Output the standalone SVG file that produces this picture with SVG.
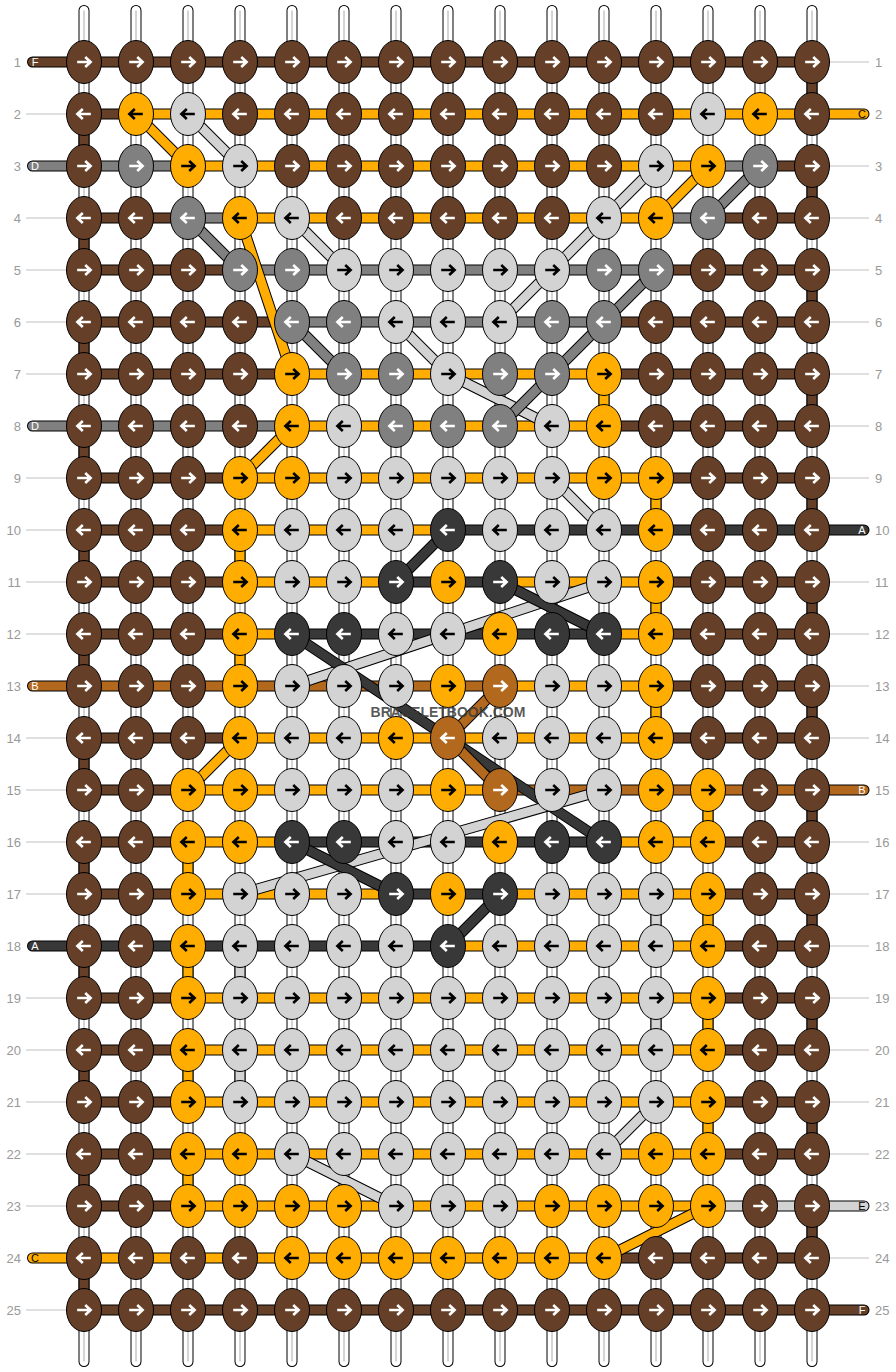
<svg xmlns="http://www.w3.org/2000/svg" xmlns:xlink="http://www.w3.org/1999/xlink" width="896" height="1372" viewBox="0 0 896 1372">
<style>
.num{font-family:"Liberation Sans",Arial,sans-serif;font-size:13px;fill:#999}
.tl{font-family:"Liberation Sans",Arial,sans-serif;font-size:11px;text-anchor:middle}
.rl{stroke:#c0c0c0;stroke-width:1;fill:none}
.ol{stroke:#000;stroke-width:11;fill:none}
.hc{stroke-width:9;fill:none}
.rc{stroke-linecap:round}
.sB{stroke:#653F27}.sO{stroke:#FFAD00}.sL{stroke:#D3D3D3}.sG{stroke:#808080}.sD{stroke:#383838}.sP{stroke:#B2691E}
.wm{font-family:"Liberation Sans",Arial,sans-serif;font-size:14px;font-weight:bold;fill:#3a3a3a;fill-opacity:.85;text-anchor:middle}
</style>
<defs>
<path id="ar" d="M-6.8,0H5.5M1.2,-5L6.6,0L1.2,5" fill="none" stroke-width="2.6"/>
<path id="al" d="M6.8,0H-5.5M-1.2,-5L-6.6,0L-1.2,5" fill="none" stroke-width="2.6"/>
<g id="BR"><ellipse rx="17.5" ry="21.5" fill="#653F27" stroke="#000"/><use href="#ar" stroke="#fff"/></g>
<g id="BL"><ellipse rx="17.5" ry="21.5" fill="#653F27" stroke="#000"/><use href="#al" stroke="#fff"/></g>
<g id="OR"><ellipse rx="17.5" ry="21.5" fill="#FFAD00" stroke="#000"/><use href="#ar" stroke="#000"/></g>
<g id="OL"><ellipse rx="17.5" ry="21.5" fill="#FFAD00" stroke="#000"/><use href="#al" stroke="#000"/></g>
<g id="LR"><ellipse rx="17.5" ry="21.5" fill="#D3D3D3" stroke="#000"/><use href="#ar" stroke="#000"/></g>
<g id="LL"><ellipse rx="17.5" ry="21.5" fill="#D3D3D3" stroke="#000"/><use href="#al" stroke="#000"/></g>
<g id="GR"><ellipse rx="17.5" ry="21.5" fill="#808080" stroke="#000"/><use href="#ar" stroke="#fff"/></g>
<g id="GL"><ellipse rx="17.5" ry="21.5" fill="#808080" stroke="#000"/><use href="#al" stroke="#fff"/></g>
<g id="DR"><ellipse rx="17.5" ry="21.5" fill="#383838" stroke="#000"/><use href="#ar" stroke="#fff"/></g>
<g id="DL"><ellipse rx="17.5" ry="21.5" fill="#383838" stroke="#000"/><use href="#al" stroke="#fff"/></g>
<g id="PR"><ellipse rx="17.5" ry="21.5" fill="#B2691E" stroke="#000"/><use href="#ar" stroke="#fff"/></g>
<g id="PL"><ellipse rx="17.5" ry="21.5" fill="#B2691E" stroke="#000"/><use href="#al" stroke="#fff"/></g>
<path id="cols" d="M84 10.5V1361.5M136 10.5V1361.5M188 10.5V1361.5M240 10.5V1361.5M292 10.5V1361.5M344 10.5V1361.5M396 10.5V1361.5M448 10.5V1361.5M500 10.5V1361.5M552 10.5V1361.5M604 10.5V1361.5M656 10.5V1361.5M708 10.5V1361.5M760 10.5V1361.5M812 10.5V1361.5"/>
<path id="vB" d="M84 114V166M84 218V270M84 322V374M84 426V478M84 530V582M84 634V686M84 738V790M84 842V894M84 946V998M84 1050V1102M84 1154V1206M84 1258V1310M812 62V114M812 166V218M812 270V322M812 374V426M812 478V530M812 582V634M812 686V738M812 790V842M812 894V946M812 998V1050M812 1102V1154M812 1206V1258"/>
<path id="vO" d="M604 374V426M656 478V530M656 582V634M656 686V738M240 530V582M240 634V686M188 842V894M188 946V998M188 1050V1102M188 1154V1206M708 790V842M708 894V946M708 998V1050M708 1102V1154"/>
<path id="vL" d="M656 894V946M656 998V1050M240 946V998M240 1050V1102"/>
<path id="hB" d="M32.5 62H812M84 114H136M760 166H812M84 218H188M708 218H812M84 270H240M656 270H812M84 322H292M604 322H812M84 374H292M604 374H812M604 426H812M84 478H240M656 478H812M84 530H240M84 582H240M656 582H812M84 634H240M656 634H812M656 686H812M84 738H240M656 738H812M84 790H188M84 842H188M708 842H812M84 894H188M708 894H812M708 946H812M84 998H188M708 998H812M84 1050H188M708 1050H812M84 1102H188M708 1102H812M84 1154H188M708 1154H812M84 1206H188M604 1258H812M84 1310H864"/>
<path id="hO" d="M136 114H864M188 166H708M240 218H656M292 374H604M292 426H604M240 478H656M240 530H448M240 582H396M500 582H656M240 634H292M604 634H656M500 686H656M240 738H656M188 790H500M188 842H292M604 842H708M188 894H396M500 894H708M448 946H708M188 998H708M188 1050H708M188 1102H708M188 1154H708M188 1206H708M32.5 1258H604"/>
<path id="hG" d="M32.5 166H188M708 166H760M188 218H240M656 218H708M240 270H656M292 322H604M32.5 426H292"/>
<path id="hD" d="M448 530H864M396 582H500M292 634H604M292 842H604M396 894H500M32.5 946H448"/>
<path id="hP" d="M32.5 686H500M500 790H864"/>
<path id="hL" d="M708 1206H864"/>
</defs>
<rect width="896" height="1372" fill="#fff"/>
<g id="warp">
<use href="#cols" stroke="#000" stroke-width="11" stroke-linecap="round" fill="none"/>
<use href="#cols" stroke="#fff" stroke-width="9" stroke-linecap="round" fill="none"/>
<use href="#cols" stroke="#c8c8c8" stroke-width="1.5" fill="none"/>
</g>
<g id="connectors">
<use href="#vB" class="ol"/><use href="#vO" class="ol"/><use href="#vL" class="ol"/>
<use href="#vB" class="hc sB"/><use href="#vO" class="hc sO"/><use href="#vL" class="hc sL"/>
<g class="rc">
<use href="#hB" class="ol"/><use href="#hO" class="ol"/><use href="#hG" class="ol"/><use href="#hD" class="ol"/><use href="#hP" class="ol"/><use href="#hL" class="ol"/>
<use href="#hB" class="hc sB"/><use href="#hO" class="hc sO"/><use href="#hG" class="hc sG"/><use href="#hD" class="hc sD"/><use href="#hP" class="hc sP"/><use href="#hL" class="hc sL"/>
</g>
<line class="ol" x1="136" y1="114" x2="188" y2="166"/><line class="hc sO" x1="136" y1="114" x2="188" y2="166"/>
<line class="ol" x1="188" y1="114" x2="240" y2="166"/><line class="hc sL" x1="188" y1="114" x2="240" y2="166"/>
<line class="ol" x1="188" y1="218" x2="240" y2="270"/><line class="hc sG" x1="188" y1="218" x2="240" y2="270"/>
<line class="ol" x1="292" y1="218" x2="344" y2="270"/><line class="hc sL" x1="292" y1="218" x2="344" y2="270"/>
<line class="ol" x1="240" y1="218" x2="292" y2="374"/><line class="hc sO" x1="240" y1="218" x2="292" y2="374"/>
<line class="ol" x1="292" y1="322" x2="344" y2="374"/><line class="hc sG" x1="292" y1="322" x2="344" y2="374"/>
<line class="ol" x1="396" y1="322" x2="448" y2="374"/><line class="hc sL" x1="396" y1="322" x2="448" y2="374"/>
<line class="ol" x1="448" y1="374" x2="552" y2="426"/><line class="hc sL" x1="448" y1="374" x2="552" y2="426"/>
<line class="ol" x1="552" y1="374" x2="500" y2="426"/><line class="hc sG" x1="552" y1="374" x2="500" y2="426"/>
<line class="ol" x1="656" y1="166" x2="604" y2="218"/><line class="hc sL" x1="656" y1="166" x2="604" y2="218"/>
<line class="ol" x1="708" y1="166" x2="656" y2="218"/><line class="hc sO" x1="708" y1="166" x2="656" y2="218"/>
<line class="ol" x1="760" y1="166" x2="708" y2="218"/><line class="hc sG" x1="760" y1="166" x2="708" y2="218"/>
<line class="ol" x1="604" y1="218" x2="552" y2="270"/><line class="hc sL" x1="604" y1="218" x2="552" y2="270"/>
<line class="ol" x1="552" y1="270" x2="500" y2="322"/><line class="hc sL" x1="552" y1="270" x2="500" y2="322"/>
<line class="ol" x1="656" y1="270" x2="604" y2="322"/><line class="hc sG" x1="656" y1="270" x2="604" y2="322"/>
<line class="ol" x1="604" y1="322" x2="552" y2="374"/><line class="hc sG" x1="604" y1="322" x2="552" y2="374"/>
<line class="ol" x1="292" y1="426" x2="240" y2="478"/><line class="hc sO" x1="292" y1="426" x2="240" y2="478"/>
<line class="ol" x1="552" y1="478" x2="604" y2="530"/><line class="hc sL" x1="552" y1="478" x2="604" y2="530"/>
<line class="ol" x1="448" y1="530" x2="396" y2="582"/><line class="hc sD" x1="448" y1="530" x2="396" y2="582"/>
<line class="ol" x1="604" y1="582" x2="292" y2="686"/><line class="hc sL" x1="604" y1="582" x2="292" y2="686"/>
<line class="ol" x1="500" y1="582" x2="604" y2="634"/><line class="hc sD" x1="500" y1="582" x2="604" y2="634"/>
<line class="ol" x1="292" y1="634" x2="604" y2="842"/><line class="hc sD" x1="292" y1="634" x2="604" y2="842"/>
<line class="ol" x1="500" y1="686" x2="448" y2="738"/><line class="hc sP" x1="500" y1="686" x2="448" y2="738"/>
<line class="ol" x1="448" y1="738" x2="500" y2="790"/><line class="hc sP" x1="448" y1="738" x2="500" y2="790"/>
<line class="ol" x1="240" y1="738" x2="188" y2="790"/><line class="hc sO" x1="240" y1="738" x2="188" y2="790"/>
<line class="ol" x1="604" y1="790" x2="240" y2="894"/><line class="hc sL" x1="604" y1="790" x2="240" y2="894"/>
<line class="ol" x1="292" y1="842" x2="396" y2="894"/><line class="hc sD" x1="292" y1="842" x2="396" y2="894"/>
<line class="ol" x1="500" y1="894" x2="448" y2="946"/><line class="hc sD" x1="500" y1="894" x2="448" y2="946"/>
<line class="ol" x1="656" y1="1102" x2="604" y2="1154"/><line class="hc sL" x1="656" y1="1102" x2="604" y2="1154"/>
<line class="ol" x1="292" y1="1154" x2="396" y2="1206"/><line class="hc sL" x1="292" y1="1154" x2="396" y2="1206"/>
<line class="ol" x1="708" y1="1206" x2="604" y2="1258"/><line class="hc sO" x1="708" y1="1206" x2="604" y2="1258"/>
</g>
<g id="knots">
<g id="k1_1"><use href="#BR" x="84" y="62"/></g><g id="k1_2"><use href="#BR" x="136" y="62"/></g><g id="k1_3"><use href="#BR" x="188" y="62"/></g><g id="k1_4"><use href="#BR" x="240" y="62"/></g><g id="k1_5"><use href="#BR" x="292" y="62"/></g><g id="k1_6"><use href="#BR" x="344" y="62"/></g><g id="k1_7"><use href="#BR" x="396" y="62"/></g><g id="k1_8"><use href="#BR" x="448" y="62"/></g><g id="k1_9"><use href="#BR" x="500" y="62"/></g><g id="k1_10"><use href="#BR" x="552" y="62"/></g><g id="k1_11"><use href="#BR" x="604" y="62"/></g><g id="k1_12"><use href="#BR" x="656" y="62"/></g><g id="k1_13"><use href="#BR" x="708" y="62"/></g><g id="k1_14"><use href="#BR" x="760" y="62"/></g><g id="k1_15"><use href="#BR" x="812" y="62"/></g>
<g id="k2_1"><use href="#BL" x="84" y="114"/></g><g id="k2_2"><use href="#OL" x="136" y="114"/></g><g id="k2_3"><use href="#LL" x="188" y="114"/></g><g id="k2_4"><use href="#BL" x="240" y="114"/></g><g id="k2_5"><use href="#BL" x="292" y="114"/></g><g id="k2_6"><use href="#BL" x="344" y="114"/></g><g id="k2_7"><use href="#BL" x="396" y="114"/></g><g id="k2_8"><use href="#BL" x="448" y="114"/></g><g id="k2_9"><use href="#BL" x="500" y="114"/></g><g id="k2_10"><use href="#BL" x="552" y="114"/></g><g id="k2_11"><use href="#BL" x="604" y="114"/></g><g id="k2_12"><use href="#BL" x="656" y="114"/></g><g id="k2_13"><use href="#LL" x="708" y="114"/></g><g id="k2_14"><use href="#OL" x="760" y="114"/></g><g id="k2_15"><use href="#BL" x="812" y="114"/></g>
<g id="k3_1"><use href="#BR" x="84" y="166"/></g><g id="k3_2"><use href="#GR" x="136" y="166"/></g><g id="k3_3"><use href="#OR" x="188" y="166"/></g><g id="k3_4"><use href="#LR" x="240" y="166"/></g><g id="k3_5"><use href="#BR" x="292" y="166"/></g><g id="k3_6"><use href="#BR" x="344" y="166"/></g><g id="k3_7"><use href="#BR" x="396" y="166"/></g><g id="k3_8"><use href="#BR" x="448" y="166"/></g><g id="k3_9"><use href="#BR" x="500" y="166"/></g><g id="k3_10"><use href="#BR" x="552" y="166"/></g><g id="k3_11"><use href="#BR" x="604" y="166"/></g><g id="k3_12"><use href="#LR" x="656" y="166"/></g><g id="k3_13"><use href="#OR" x="708" y="166"/></g><g id="k3_14"><use href="#GR" x="760" y="166"/></g><g id="k3_15"><use href="#BR" x="812" y="166"/></g>
<g id="k4_1"><use href="#BL" x="84" y="218"/></g><g id="k4_2"><use href="#BL" x="136" y="218"/></g><g id="k4_3"><use href="#GL" x="188" y="218"/></g><g id="k4_4"><use href="#OL" x="240" y="218"/></g><g id="k4_5"><use href="#LL" x="292" y="218"/></g><g id="k4_6"><use href="#BL" x="344" y="218"/></g><g id="k4_7"><use href="#BL" x="396" y="218"/></g><g id="k4_8"><use href="#BL" x="448" y="218"/></g><g id="k4_9"><use href="#BL" x="500" y="218"/></g><g id="k4_10"><use href="#BL" x="552" y="218"/></g><g id="k4_11"><use href="#LL" x="604" y="218"/></g><g id="k4_12"><use href="#OL" x="656" y="218"/></g><g id="k4_13"><use href="#GL" x="708" y="218"/></g><g id="k4_14"><use href="#BL" x="760" y="218"/></g><g id="k4_15"><use href="#BL" x="812" y="218"/></g>
<g id="k5_1"><use href="#BR" x="84" y="270"/></g><g id="k5_2"><use href="#BR" x="136" y="270"/></g><g id="k5_3"><use href="#BR" x="188" y="270"/></g><g id="k5_4"><use href="#GR" x="240" y="270"/></g><g id="k5_5"><use href="#GR" x="292" y="270"/></g><g id="k5_6"><use href="#LR" x="344" y="270"/></g><g id="k5_7"><use href="#LR" x="396" y="270"/></g><g id="k5_8"><use href="#LR" x="448" y="270"/></g><g id="k5_9"><use href="#LR" x="500" y="270"/></g><g id="k5_10"><use href="#LR" x="552" y="270"/></g><g id="k5_11"><use href="#GR" x="604" y="270"/></g><g id="k5_12"><use href="#GR" x="656" y="270"/></g><g id="k5_13"><use href="#BR" x="708" y="270"/></g><g id="k5_14"><use href="#BR" x="760" y="270"/></g><g id="k5_15"><use href="#BR" x="812" y="270"/></g>
<g id="k6_1"><use href="#BL" x="84" y="322"/></g><g id="k6_2"><use href="#BL" x="136" y="322"/></g><g id="k6_3"><use href="#BL" x="188" y="322"/></g><g id="k6_4"><use href="#BL" x="240" y="322"/></g><g id="k6_5"><use href="#GL" x="292" y="322"/></g><g id="k6_6"><use href="#GL" x="344" y="322"/></g><g id="k6_7"><use href="#LL" x="396" y="322"/></g><g id="k6_8"><use href="#LL" x="448" y="322"/></g><g id="k6_9"><use href="#LL" x="500" y="322"/></g><g id="k6_10"><use href="#GL" x="552" y="322"/></g><g id="k6_11"><use href="#GL" x="604" y="322"/></g><g id="k6_12"><use href="#BL" x="656" y="322"/></g><g id="k6_13"><use href="#BL" x="708" y="322"/></g><g id="k6_14"><use href="#BL" x="760" y="322"/></g><g id="k6_15"><use href="#BL" x="812" y="322"/></g>
<g id="k7_1"><use href="#BR" x="84" y="374"/></g><g id="k7_2"><use href="#BR" x="136" y="374"/></g><g id="k7_3"><use href="#BR" x="188" y="374"/></g><g id="k7_4"><use href="#BR" x="240" y="374"/></g><g id="k7_5"><use href="#OR" x="292" y="374"/></g><g id="k7_6"><use href="#GR" x="344" y="374"/></g><g id="k7_7"><use href="#GR" x="396" y="374"/></g><g id="k7_8"><use href="#LR" x="448" y="374"/></g><g id="k7_9"><use href="#GR" x="500" y="374"/></g><g id="k7_10"><use href="#GR" x="552" y="374"/></g><g id="k7_11"><use href="#OR" x="604" y="374"/></g><g id="k7_12"><use href="#BR" x="656" y="374"/></g><g id="k7_13"><use href="#BR" x="708" y="374"/></g><g id="k7_14"><use href="#BR" x="760" y="374"/></g><g id="k7_15"><use href="#BR" x="812" y="374"/></g>
<g id="k8_1"><use href="#BL" x="84" y="426"/></g><g id="k8_2"><use href="#BL" x="136" y="426"/></g><g id="k8_3"><use href="#BL" x="188" y="426"/></g><g id="k8_4"><use href="#BL" x="240" y="426"/></g><g id="k8_5"><use href="#OL" x="292" y="426"/></g><g id="k8_6"><use href="#LL" x="344" y="426"/></g><g id="k8_7"><use href="#GL" x="396" y="426"/></g><g id="k8_8"><use href="#GL" x="448" y="426"/></g><g id="k8_9"><use href="#GL" x="500" y="426"/></g><g id="k8_10"><use href="#LL" x="552" y="426"/></g><g id="k8_11"><use href="#OL" x="604" y="426"/></g><g id="k8_12"><use href="#BL" x="656" y="426"/></g><g id="k8_13"><use href="#BL" x="708" y="426"/></g><g id="k8_14"><use href="#BL" x="760" y="426"/></g><g id="k8_15"><use href="#BL" x="812" y="426"/></g>
<g id="k9_1"><use href="#BR" x="84" y="478"/></g><g id="k9_2"><use href="#BR" x="136" y="478"/></g><g id="k9_3"><use href="#BR" x="188" y="478"/></g><g id="k9_4"><use href="#OR" x="240" y="478"/></g><g id="k9_5"><use href="#OR" x="292" y="478"/></g><g id="k9_6"><use href="#LR" x="344" y="478"/></g><g id="k9_7"><use href="#LR" x="396" y="478"/></g><g id="k9_8"><use href="#LR" x="448" y="478"/></g><g id="k9_9"><use href="#LR" x="500" y="478"/></g><g id="k9_10"><use href="#LR" x="552" y="478"/></g><g id="k9_11"><use href="#OR" x="604" y="478"/></g><g id="k9_12"><use href="#OR" x="656" y="478"/></g><g id="k9_13"><use href="#BR" x="708" y="478"/></g><g id="k9_14"><use href="#BR" x="760" y="478"/></g><g id="k9_15"><use href="#BR" x="812" y="478"/></g>
<g id="k10_1"><use href="#BL" x="84" y="530"/></g><g id="k10_2"><use href="#BL" x="136" y="530"/></g><g id="k10_3"><use href="#BL" x="188" y="530"/></g><g id="k10_4"><use href="#OL" x="240" y="530"/></g><g id="k10_5"><use href="#LL" x="292" y="530"/></g><g id="k10_6"><use href="#LL" x="344" y="530"/></g><g id="k10_7"><use href="#LL" x="396" y="530"/></g><g id="k10_8"><use href="#DL" x="448" y="530"/></g><g id="k10_9"><use href="#LL" x="500" y="530"/></g><g id="k10_10"><use href="#LL" x="552" y="530"/></g><g id="k10_11"><use href="#LL" x="604" y="530"/></g><g id="k10_12"><use href="#OL" x="656" y="530"/></g><g id="k10_13"><use href="#BL" x="708" y="530"/></g><g id="k10_14"><use href="#BL" x="760" y="530"/></g><g id="k10_15"><use href="#BL" x="812" y="530"/></g>
<g id="k11_1"><use href="#BR" x="84" y="582"/></g><g id="k11_2"><use href="#BR" x="136" y="582"/></g><g id="k11_3"><use href="#BR" x="188" y="582"/></g><g id="k11_4"><use href="#OR" x="240" y="582"/></g><g id="k11_5"><use href="#LR" x="292" y="582"/></g><g id="k11_6"><use href="#LR" x="344" y="582"/></g><g id="k11_7"><use href="#DR" x="396" y="582"/></g><g id="k11_8"><use href="#OR" x="448" y="582"/></g><g id="k11_9"><use href="#DR" x="500" y="582"/></g><g id="k11_10"><use href="#LR" x="552" y="582"/></g><g id="k11_11"><use href="#LR" x="604" y="582"/></g><g id="k11_12"><use href="#OR" x="656" y="582"/></g><g id="k11_13"><use href="#BR" x="708" y="582"/></g><g id="k11_14"><use href="#BR" x="760" y="582"/></g><g id="k11_15"><use href="#BR" x="812" y="582"/></g>
<g id="k12_1"><use href="#BL" x="84" y="634"/></g><g id="k12_2"><use href="#BL" x="136" y="634"/></g><g id="k12_3"><use href="#BL" x="188" y="634"/></g><g id="k12_4"><use href="#OL" x="240" y="634"/></g><g id="k12_5"><use href="#DL" x="292" y="634"/></g><g id="k12_6"><use href="#DL" x="344" y="634"/></g><g id="k12_7"><use href="#LL" x="396" y="634"/></g><g id="k12_8"><use href="#LL" x="448" y="634"/></g><g id="k12_9"><use href="#OL" x="500" y="634"/></g><g id="k12_10"><use href="#DL" x="552" y="634"/></g><g id="k12_11"><use href="#DL" x="604" y="634"/></g><g id="k12_12"><use href="#OL" x="656" y="634"/></g><g id="k12_13"><use href="#BL" x="708" y="634"/></g><g id="k12_14"><use href="#BL" x="760" y="634"/></g><g id="k12_15"><use href="#BL" x="812" y="634"/></g>
<g id="k13_1"><use href="#BR" x="84" y="686"/></g><g id="k13_2"><use href="#BR" x="136" y="686"/></g><g id="k13_3"><use href="#BR" x="188" y="686"/></g><g id="k13_4"><use href="#OR" x="240" y="686"/></g><g id="k13_5"><use href="#LR" x="292" y="686"/></g><g id="k13_6"><use href="#LR" x="344" y="686"/></g><g id="k13_7"><use href="#LR" x="396" y="686"/></g><g id="k13_8"><use href="#OR" x="448" y="686"/></g><g id="k13_9"><use href="#PR" x="500" y="686"/></g><g id="k13_10"><use href="#LR" x="552" y="686"/></g><g id="k13_11"><use href="#LR" x="604" y="686"/></g><g id="k13_12"><use href="#OR" x="656" y="686"/></g><g id="k13_13"><use href="#BR" x="708" y="686"/></g><g id="k13_14"><use href="#BR" x="760" y="686"/></g><g id="k13_15"><use href="#BR" x="812" y="686"/></g>
<g id="k14_1"><use href="#BL" x="84" y="738"/></g><g id="k14_2"><use href="#BL" x="136" y="738"/></g><g id="k14_3"><use href="#BL" x="188" y="738"/></g><g id="k14_4"><use href="#OL" x="240" y="738"/></g><g id="k14_5"><use href="#LL" x="292" y="738"/></g><g id="k14_6"><use href="#LL" x="344" y="738"/></g><g id="k14_7"><use href="#OL" x="396" y="738"/></g><g id="k14_8"><use href="#PL" x="448" y="738"/></g><g id="k14_9"><use href="#LL" x="500" y="738"/></g><g id="k14_10"><use href="#LL" x="552" y="738"/></g><g id="k14_11"><use href="#LL" x="604" y="738"/></g><g id="k14_12"><use href="#OL" x="656" y="738"/></g><g id="k14_13"><use href="#BL" x="708" y="738"/></g><g id="k14_14"><use href="#BL" x="760" y="738"/></g><g id="k14_15"><use href="#BL" x="812" y="738"/></g>
<g id="k15_1"><use href="#BR" x="84" y="790"/></g><g id="k15_2"><use href="#BR" x="136" y="790"/></g><g id="k15_3"><use href="#OR" x="188" y="790"/></g><g id="k15_4"><use href="#OR" x="240" y="790"/></g><g id="k15_5"><use href="#LR" x="292" y="790"/></g><g id="k15_6"><use href="#LR" x="344" y="790"/></g><g id="k15_7"><use href="#LR" x="396" y="790"/></g><g id="k15_8"><use href="#OR" x="448" y="790"/></g><g id="k15_9"><use href="#PR" x="500" y="790"/></g><g id="k15_10"><use href="#LR" x="552" y="790"/></g><g id="k15_11"><use href="#LR" x="604" y="790"/></g><g id="k15_12"><use href="#OR" x="656" y="790"/></g><g id="k15_13"><use href="#OR" x="708" y="790"/></g><g id="k15_14"><use href="#BR" x="760" y="790"/></g><g id="k15_15"><use href="#BR" x="812" y="790"/></g>
<g id="k16_1"><use href="#BL" x="84" y="842"/></g><g id="k16_2"><use href="#BL" x="136" y="842"/></g><g id="k16_3"><use href="#OL" x="188" y="842"/></g><g id="k16_4"><use href="#OL" x="240" y="842"/></g><g id="k16_5"><use href="#DL" x="292" y="842"/></g><g id="k16_6"><use href="#DL" x="344" y="842"/></g><g id="k16_7"><use href="#LL" x="396" y="842"/></g><g id="k16_8"><use href="#LL" x="448" y="842"/></g><g id="k16_9"><use href="#OL" x="500" y="842"/></g><g id="k16_10"><use href="#DL" x="552" y="842"/></g><g id="k16_11"><use href="#DL" x="604" y="842"/></g><g id="k16_12"><use href="#OL" x="656" y="842"/></g><g id="k16_13"><use href="#OL" x="708" y="842"/></g><g id="k16_14"><use href="#BL" x="760" y="842"/></g><g id="k16_15"><use href="#BL" x="812" y="842"/></g>
<g id="k17_1"><use href="#BR" x="84" y="894"/></g><g id="k17_2"><use href="#BR" x="136" y="894"/></g><g id="k17_3"><use href="#OR" x="188" y="894"/></g><g id="k17_4"><use href="#LR" x="240" y="894"/></g><g id="k17_5"><use href="#LR" x="292" y="894"/></g><g id="k17_6"><use href="#LR" x="344" y="894"/></g><g id="k17_7"><use href="#DR" x="396" y="894"/></g><g id="k17_8"><use href="#OR" x="448" y="894"/></g><g id="k17_9"><use href="#DR" x="500" y="894"/></g><g id="k17_10"><use href="#LR" x="552" y="894"/></g><g id="k17_11"><use href="#LR" x="604" y="894"/></g><g id="k17_12"><use href="#LR" x="656" y="894"/></g><g id="k17_13"><use href="#OR" x="708" y="894"/></g><g id="k17_14"><use href="#BR" x="760" y="894"/></g><g id="k17_15"><use href="#BR" x="812" y="894"/></g>
<g id="k18_1"><use href="#BL" x="84" y="946"/></g><g id="k18_2"><use href="#BL" x="136" y="946"/></g><g id="k18_3"><use href="#OL" x="188" y="946"/></g><g id="k18_4"><use href="#LL" x="240" y="946"/></g><g id="k18_5"><use href="#LL" x="292" y="946"/></g><g id="k18_6"><use href="#LL" x="344" y="946"/></g><g id="k18_7"><use href="#LL" x="396" y="946"/></g><g id="k18_8"><use href="#DL" x="448" y="946"/></g><g id="k18_9"><use href="#LL" x="500" y="946"/></g><g id="k18_10"><use href="#LL" x="552" y="946"/></g><g id="k18_11"><use href="#LL" x="604" y="946"/></g><g id="k18_12"><use href="#LL" x="656" y="946"/></g><g id="k18_13"><use href="#OL" x="708" y="946"/></g><g id="k18_14"><use href="#BL" x="760" y="946"/></g><g id="k18_15"><use href="#BL" x="812" y="946"/></g>
<g id="k19_1"><use href="#BR" x="84" y="998"/></g><g id="k19_2"><use href="#BR" x="136" y="998"/></g><g id="k19_3"><use href="#OR" x="188" y="998"/></g><g id="k19_4"><use href="#LR" x="240" y="998"/></g><g id="k19_5"><use href="#LR" x="292" y="998"/></g><g id="k19_6"><use href="#LR" x="344" y="998"/></g><g id="k19_7"><use href="#LR" x="396" y="998"/></g><g id="k19_8"><use href="#LR" x="448" y="998"/></g><g id="k19_9"><use href="#LR" x="500" y="998"/></g><g id="k19_10"><use href="#LR" x="552" y="998"/></g><g id="k19_11"><use href="#LR" x="604" y="998"/></g><g id="k19_12"><use href="#LR" x="656" y="998"/></g><g id="k19_13"><use href="#OR" x="708" y="998"/></g><g id="k19_14"><use href="#BR" x="760" y="998"/></g><g id="k19_15"><use href="#BR" x="812" y="998"/></g>
<g id="k20_1"><use href="#BL" x="84" y="1050"/></g><g id="k20_2"><use href="#BL" x="136" y="1050"/></g><g id="k20_3"><use href="#OL" x="188" y="1050"/></g><g id="k20_4"><use href="#LL" x="240" y="1050"/></g><g id="k20_5"><use href="#LL" x="292" y="1050"/></g><g id="k20_6"><use href="#LL" x="344" y="1050"/></g><g id="k20_7"><use href="#LL" x="396" y="1050"/></g><g id="k20_8"><use href="#LL" x="448" y="1050"/></g><g id="k20_9"><use href="#LL" x="500" y="1050"/></g><g id="k20_10"><use href="#LL" x="552" y="1050"/></g><g id="k20_11"><use href="#LL" x="604" y="1050"/></g><g id="k20_12"><use href="#LL" x="656" y="1050"/></g><g id="k20_13"><use href="#OL" x="708" y="1050"/></g><g id="k20_14"><use href="#BL" x="760" y="1050"/></g><g id="k20_15"><use href="#BL" x="812" y="1050"/></g>
<g id="k21_1"><use href="#BR" x="84" y="1102"/></g><g id="k21_2"><use href="#BR" x="136" y="1102"/></g><g id="k21_3"><use href="#OR" x="188" y="1102"/></g><g id="k21_4"><use href="#LR" x="240" y="1102"/></g><g id="k21_5"><use href="#LR" x="292" y="1102"/></g><g id="k21_6"><use href="#LR" x="344" y="1102"/></g><g id="k21_7"><use href="#LR" x="396" y="1102"/></g><g id="k21_8"><use href="#LR" x="448" y="1102"/></g><g id="k21_9"><use href="#LR" x="500" y="1102"/></g><g id="k21_10"><use href="#LR" x="552" y="1102"/></g><g id="k21_11"><use href="#LR" x="604" y="1102"/></g><g id="k21_12"><use href="#LR" x="656" y="1102"/></g><g id="k21_13"><use href="#OR" x="708" y="1102"/></g><g id="k21_14"><use href="#BR" x="760" y="1102"/></g><g id="k21_15"><use href="#BR" x="812" y="1102"/></g>
<g id="k22_1"><use href="#BL" x="84" y="1154"/></g><g id="k22_2"><use href="#BL" x="136" y="1154"/></g><g id="k22_3"><use href="#OL" x="188" y="1154"/></g><g id="k22_4"><use href="#OL" x="240" y="1154"/></g><g id="k22_5"><use href="#LL" x="292" y="1154"/></g><g id="k22_6"><use href="#LL" x="344" y="1154"/></g><g id="k22_7"><use href="#LL" x="396" y="1154"/></g><g id="k22_8"><use href="#LL" x="448" y="1154"/></g><g id="k22_9"><use href="#LL" x="500" y="1154"/></g><g id="k22_10"><use href="#LL" x="552" y="1154"/></g><g id="k22_11"><use href="#LL" x="604" y="1154"/></g><g id="k22_12"><use href="#OL" x="656" y="1154"/></g><g id="k22_13"><use href="#OL" x="708" y="1154"/></g><g id="k22_14"><use href="#BL" x="760" y="1154"/></g><g id="k22_15"><use href="#BL" x="812" y="1154"/></g>
<g id="k23_1"><use href="#BR" x="84" y="1206"/></g><g id="k23_2"><use href="#BR" x="136" y="1206"/></g><g id="k23_3"><use href="#OR" x="188" y="1206"/></g><g id="k23_4"><use href="#OR" x="240" y="1206"/></g><g id="k23_5"><use href="#OR" x="292" y="1206"/></g><g id="k23_6"><use href="#OR" x="344" y="1206"/></g><g id="k23_7"><use href="#LR" x="396" y="1206"/></g><g id="k23_8"><use href="#LR" x="448" y="1206"/></g><g id="k23_9"><use href="#LR" x="500" y="1206"/></g><g id="k23_10"><use href="#OR" x="552" y="1206"/></g><g id="k23_11"><use href="#OR" x="604" y="1206"/></g><g id="k23_12"><use href="#OR" x="656" y="1206"/></g><g id="k23_13"><use href="#OR" x="708" y="1206"/></g><g id="k23_14"><use href="#BR" x="760" y="1206"/></g><g id="k23_15"><use href="#BR" x="812" y="1206"/></g>
<g id="k24_1"><use href="#BL" x="84" y="1258"/></g><g id="k24_2"><use href="#BL" x="136" y="1258"/></g><g id="k24_3"><use href="#BL" x="188" y="1258"/></g><g id="k24_4"><use href="#BL" x="240" y="1258"/></g><g id="k24_5"><use href="#OL" x="292" y="1258"/></g><g id="k24_6"><use href="#OL" x="344" y="1258"/></g><g id="k24_7"><use href="#OL" x="396" y="1258"/></g><g id="k24_8"><use href="#OL" x="448" y="1258"/></g><g id="k24_9"><use href="#OL" x="500" y="1258"/></g><g id="k24_10"><use href="#OL" x="552" y="1258"/></g><g id="k24_11"><use href="#OL" x="604" y="1258"/></g><g id="k24_12"><use href="#BL" x="656" y="1258"/></g><g id="k24_13"><use href="#BL" x="708" y="1258"/></g><g id="k24_14"><use href="#BL" x="760" y="1258"/></g><g id="k24_15"><use href="#BL" x="812" y="1258"/></g>
<g id="k25_1"><use href="#BR" x="84" y="1310"/></g><g id="k25_2"><use href="#BR" x="136" y="1310"/></g><g id="k25_3"><use href="#BR" x="188" y="1310"/></g><g id="k25_4"><use href="#BR" x="240" y="1310"/></g><g id="k25_5"><use href="#BR" x="292" y="1310"/></g><g id="k25_6"><use href="#BR" x="344" y="1310"/></g><g id="k25_7"><use href="#BR" x="396" y="1310"/></g><g id="k25_8"><use href="#BR" x="448" y="1310"/></g><g id="k25_9"><use href="#BR" x="500" y="1310"/></g><g id="k25_10"><use href="#BR" x="552" y="1310"/></g><g id="k25_11"><use href="#BR" x="604" y="1310"/></g><g id="k25_12"><use href="#BR" x="656" y="1310"/></g><g id="k25_13"><use href="#BR" x="708" y="1310"/></g><g id="k25_14"><use href="#BR" x="760" y="1310"/></g><g id="k25_15"><use href="#BR" x="812" y="1310"/></g>
</g>
<g id="tail-labels" class="tl">
<text x="35" y="66" fill="#fff">F</text>
<text x="35" y="170" fill="#fff">D</text>
<text x="35" y="430" fill="#fff">D</text>
<text x="35" y="690" fill="#fff">B</text>
<text x="35" y="950" fill="#fff">A</text>
<text x="35" y="1262" fill="#000">C</text>
<text x="862" y="118" fill="#000">C</text>
<text x="862" y="534" fill="#fff">A</text>
<text x="862" y="794" fill="#fff">B</text>
<text x="862" y="1210" fill="#000">E</text>
<text x="862" y="1314" fill="#fff">F</text>
</g>
<g id="row-lines" class="rl">
<path d="M26 114H66M26 218H66M26 270H66M26 322H66M26 374H66M26 478H66M26 530H66M26 582H66M26 634H66M26 738H66M26 790H66M26 842H66M26 894H66M26 998H66M26 1050H66M26 1102H66M26 1154H66M26 1206H66M26 1310H66"/>
<path d="M830 62H869M830 166H869M830 218H869M830 270H869M830 322H869M830 374H869M830 426H869M830 478H869M830 582H869M830 634H869M830 686H869M830 738H869M830 842H869M830 894H869M830 946H869M830 998H869M830 1050H869M830 1102H869M830 1154H869M830 1258H869"/>
</g>
<g id="row-numbers-left" class="num" text-anchor="end">
<text x="21" y="66.5">1</text><text x="21" y="118.5">2</text><text x="21" y="170.5">3</text><text x="21" y="222.5">4</text><text x="21" y="274.5">5</text><text x="21" y="326.5">6</text><text x="21" y="378.5">7</text><text x="21" y="430.5">8</text><text x="21" y="482.5">9</text><text x="21" y="534.5">10</text><text x="21" y="586.5">11</text><text x="21" y="638.5">12</text><text x="21" y="690.5">13</text><text x="21" y="742.5">14</text><text x="21" y="794.5">15</text><text x="21" y="846.5">16</text><text x="21" y="898.5">17</text><text x="21" y="950.5">18</text><text x="21" y="1002.5">19</text><text x="21" y="1054.5">20</text><text x="21" y="1106.5">21</text><text x="21" y="1158.5">22</text><text x="21" y="1210.5">23</text><text x="21" y="1262.5">24</text><text x="21" y="1314.5">25</text>
</g>
<g id="row-numbers-right" class="num">
<text x="875" y="66.5">1</text><text x="875" y="118.5">2</text><text x="875" y="170.5">3</text><text x="875" y="222.5">4</text><text x="875" y="274.5">5</text><text x="875" y="326.5">6</text><text x="875" y="378.5">7</text><text x="875" y="430.5">8</text><text x="875" y="482.5">9</text><text x="875" y="534.5">10</text><text x="875" y="586.5">11</text><text x="875" y="638.5">12</text><text x="875" y="690.5">13</text><text x="875" y="742.5">14</text><text x="875" y="794.5">15</text><text x="875" y="846.5">16</text><text x="875" y="898.5">17</text><text x="875" y="950.5">18</text><text x="875" y="1002.5">19</text><text x="875" y="1054.5">20</text><text x="875" y="1106.5">21</text><text x="875" y="1158.5">22</text><text x="875" y="1210.5">23</text><text x="875" y="1262.5">24</text><text x="875" y="1314.5">25</text>
</g>
<text class="wm" x="448" y="717">BRACELETBOOK.COM</text>
</svg>
